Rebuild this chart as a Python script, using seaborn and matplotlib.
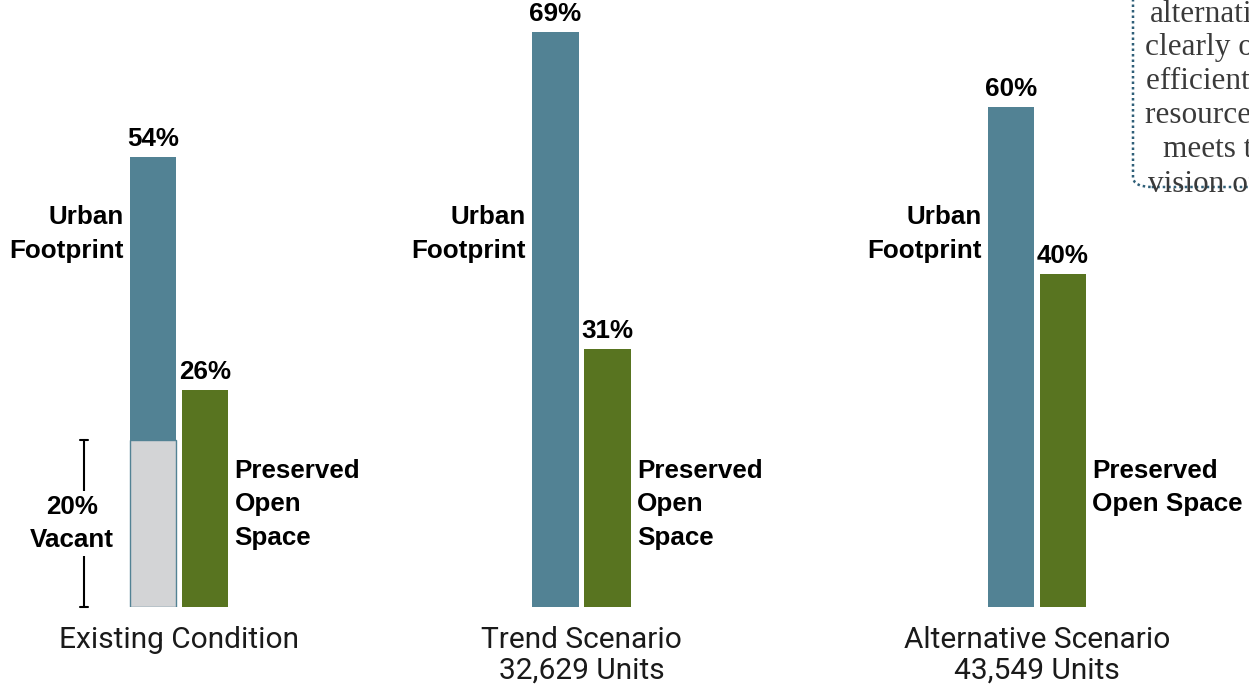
import matplotlib
matplotlib.use("Agg")
import matplotlib.pyplot as plt
from matplotlib.patches import FancyBboxPatch
import pandas as pd
import seaborn as sns

# --- data -------------------------------------------------------------
scenarios = ["Existing Condition", "Trend Scenario", "Alternative Scenario"]
unit_counts = ["", "32,629 Units", "43,549 Units"]
urban_pct = [54, 69, 60]
open_pct = [26, 31, 40]
vacant_pct = 20  # vacant land inside the existing urban footprint
open_labels = ["Preserved\nOpen\nSpace", "Preserved\nOpen\nSpace", "Preserved\nOpen Space"]
note_lines = ["alternative", "clearly outlines", "efficient use of", "resources and",
              "meets the", "vision of the"]

# --- style ------------------------------------------------------------
URBAN = "#528294"
OPEN = "#587420"
VACANT = "#D3D4D6"
NOTE_EDGE = "#2F5F78"
sns.set_theme(style="white")
plt.rcParams["font.family"] = ["Liberation Sans", "DejaVu Sans"]

W, H = 1249, 687
BASE_PX = 607          # pixel row of the bar baseline
PX_PER_PCT = 8.33      # vertical scale
UNIT_PX = 52           # spacing between the two bars of a group
YMAX = 70
group_centers = [179, 581.5, 1037]
cat_order = ["Urban Footprint", "Preserved Open Space"]

fig = plt.figure(figsize=(W / 100, H / 100), dpi=100)

bold = dict(fontsize=18.7, fontweight="bold", color="black")

for i, c in enumerate(group_centers):
    ax = fig.add_axes([(c - UNIT_PX) / W, (H - BASE_PX) / H,
                       2 * UNIT_PX / W, YMAX * PX_PER_PCT / H])
    df = pd.DataFrame({"land": cat_order, "pct": [urban_pct[i], open_pct[i]]})
    sns.barplot(data=df, x="land", y="pct", hue="land", order=cat_order,
                palette=[URBAN, OPEN], width=0.9, legend=False, ax=ax,
                saturation=1, linewidth=0)
    if i == 0:
        vac = pd.DataFrame({"land": ["Urban Footprint"], "pct": [vacant_pct]})
        sns.barplot(data=vac, x="land", y="pct", order=cat_order, color=VACANT,
                    width=0.9, ax=ax, saturation=1, edgecolor=URBAN, linewidth=1)
    ax.set_xlim(-0.5, 1.5)
    ax.set_ylim(0, YMAX)
    ax.set_axis_off()

    # value labels above bars
    for x, v in zip([0, 1], [urban_pct[i], open_pct[i]]):
        ax.annotate(f"{v}%", (x, v), xytext=(0, 11), textcoords="offset pixels",
                    ha="center", va="baseline", annotation_clip=False, **bold)

    # side labels
    ax.annotate("Urban\nFootprint", (-0.45, 44.8), xytext=(-6, 0),
                textcoords="offset pixels", ha="right", va="center",
                linespacing=1.5, annotation_clip=False, **bold)
    ax.annotate(open_labels[i], (1.45, 17.8), xytext=(6, 0),
                textcoords="offset pixels", ha="left", va="top",
                linespacing=1.5, annotation_clip=False, **bold)

    # scenario name under the group
    name = scenarios[i] + ("\n" + unit_counts[i] if unit_counts[i] else "")
    ax.annotate(name, (0.5, 0), xycoords="axes fraction", xytext=(0, -19),
                textcoords="offset pixels", ha="center", va="top",
                fontsize=21.5, fontfamily="Roboto", fontweight="normal",
                color="#1a1a1a", linespacing=1.1, annotation_clip=False)

    if i == 0:
        # bracket marking the vacant share
        bx = -0.5 + (84 - (c - UNIT_PX)) / UNIT_PX
        ax.plot([bx, bx], [0, vacant_pct], color="black", lw=1.5, clip_on=False)
        for yy in (0, vacant_pct):
            ax.plot([bx - 0.07, bx + 0.07], [yy, yy], color="black", lw=1.5,
                    clip_on=False)
        tx = -0.5 + (72 - (c - UNIT_PX)) / UNIT_PX
        ax.text(tx, vacant_pct / 2, f"{vacant_pct}%\nVacant", ha="center",
                va="center", linespacing=1.5, clip_on=False,
                bbox=dict(boxstyle="square,pad=0.15", fc="white", ec="none"),
                **bold)

# side note box at the top right
box = FancyBboxPatch((1133 / W, (H - 187) / H), 400 / W, 300 / H,
                     boxstyle="round,pad=0,rounding_size=0.015",
                     transform=fig.transFigure, fill=False, ec=NOTE_EDGE,
                     lw=1.8, ls=(0, (1, 1.2)), clip_on=False)
fig.add_artist(box)
note_x = [1150, 1145, 1146, 1145, 1163, 1148]
note_base = [22, 55, 89, 123, 157, 192]
for txt, x, y in zip(note_lines, note_x, note_base):
    fig.text(x / W, (H - y) / H, txt, ha="left", va="baseline",
             fontsize=22.5, fontfamily="Liberation Serif", color="#3A3A3A")

fig.savefig("out.png", dpi=100)
